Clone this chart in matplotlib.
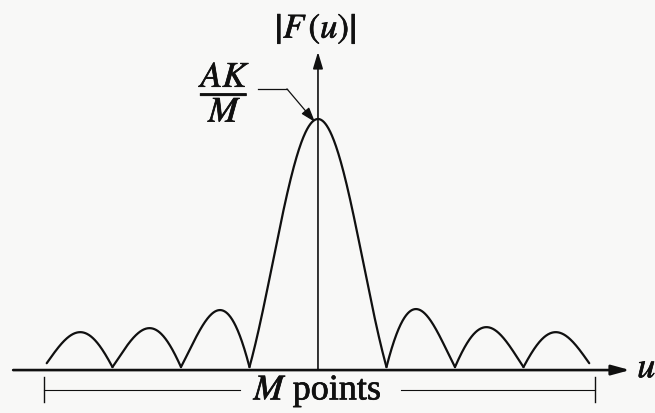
import numpy as np
import matplotlib
matplotlib.use("Agg")
import matplotlib.pyplot as plt
import matplotlib.patheffects as pe

plt.rcParams['mathtext.fontset'] = 'stix'
plt.rcParams['font.family'] = ['Liberation Serif', 'DejaVu Serif']

# lobe boundaries (zeros of |F(u)|) in units of 1/M-spacing, and lobe peak heights
zeros = [-4, -3, -2, -1, 1, 2, 3, 4]
main_peak = 1.0
side_peaks = [0.151, 0.167, 0.239, 0.243, 0.171, 0.151]
floor = 0.012
u_ends = [-3.96, 3.96]
span = [-4.0, 4.04]

ink = '#101010'
bg = '#f8f8f7'
bold = [pe.withStroke(linewidth=0.5, foreground=ink)]

fig = plt.figure(figsize=(6.55, 4.14), dpi=100, facecolor=bg)
ax = fig.add_axes([0, 0, 1, 1])
ax.set_facecolor(bg)
ax.set_xlim(-4.642, 4.920)
ax.set_ylim(-0.171, 1.478)
ax.axis('off')

# main lobe
u = np.linspace(zeros[3], zeros[4], 400)
ax.plot(u, floor + (main_peak - floor) * np.abs(np.sinc(u)), color=ink, lw=1.6,
        solid_capstyle='round')

# side lobes: sinc shape scaled to each lobe's peak
lobes = list(zip(zeros[:3], zeros[1:4])) + list(zip(zeros[4:7], zeros[5:]))
for (a, b), pk in zip(lobes, side_peaks):
    a2 = max(a, u_ends[0])
    b2 = min(b, u_ends[1])
    u = np.linspace(a2, b2, 200)
    uu = np.linspace(a, b, 400)
    s = np.abs(np.sinc(u)) / np.abs(np.sinc(uu)).max()
    ax.plot(u, floor + (pk - floor) * s, color=ink, lw=1.6, solid_capstyle='round')

# axes with arrows
ax.annotate('', xy=(4.555, 0), xytext=(-4.45, 0),
            arrowprops=dict(arrowstyle='-|>,head_length=0.55,head_width=0.15',
                            mutation_scale=20, lw=1.9, color=ink,
                            shrinkA=0, shrinkB=0))
ax.annotate('', xy=(0, 1.267), xytext=(0, 0),
            arrowprops=dict(arrowstyle='-|>,head_length=0.5,head_width=0.15',
                            mutation_scale=20, lw=1.2, color=ink,
                            shrinkA=0, shrinkB=0))

ax.text(4.80, 0.004, r'$u$', fontsize=26, color=ink, ha='center', va='center',
        path_effects=bold)
ax.text(-0.03, 1.36, r'$\left|F\,(u)\right|$', fontsize=25, color=ink,
        ha='center', va='center', path_effects=bold)

# peak value label with leader arrow
ax.text(-1.34, 1.105, r'$\dfrac{AK}{M}$', fontsize=26, color=ink,
        ha='center', va='center', path_effects=bold)
ax.plot([-0.876, -0.453], [1.120, 1.120], color=ink, lw=0.9)
ax.annotate('', xy=(-0.044, 0.988), xytext=(-0.453, 1.120),
            arrowprops=dict(arrowstyle='-|>,head_length=0.45,head_width=0.15',
                            mutation_scale=20, lw=0.9, color=ink,
                            shrinkA=0, shrinkB=0))

# M points span
yb = -0.080
ax.plot([span[0], -1.14], [yb, yb], color=ink, lw=0.8)
ax.plot([1.21, span[1]], [yb, yb], color=ink, lw=0.8)
for x in span:
    ax.plot([x, x], [-0.028, -0.127], color=ink, lw=1.0)
ax.text(0.0, yb - 0.006, r'$M$ points', fontsize=26, color=ink, ha='center',
        va='center', path_effects=bold)

fig.savefig('out.png', dpi=100, facecolor=bg)
